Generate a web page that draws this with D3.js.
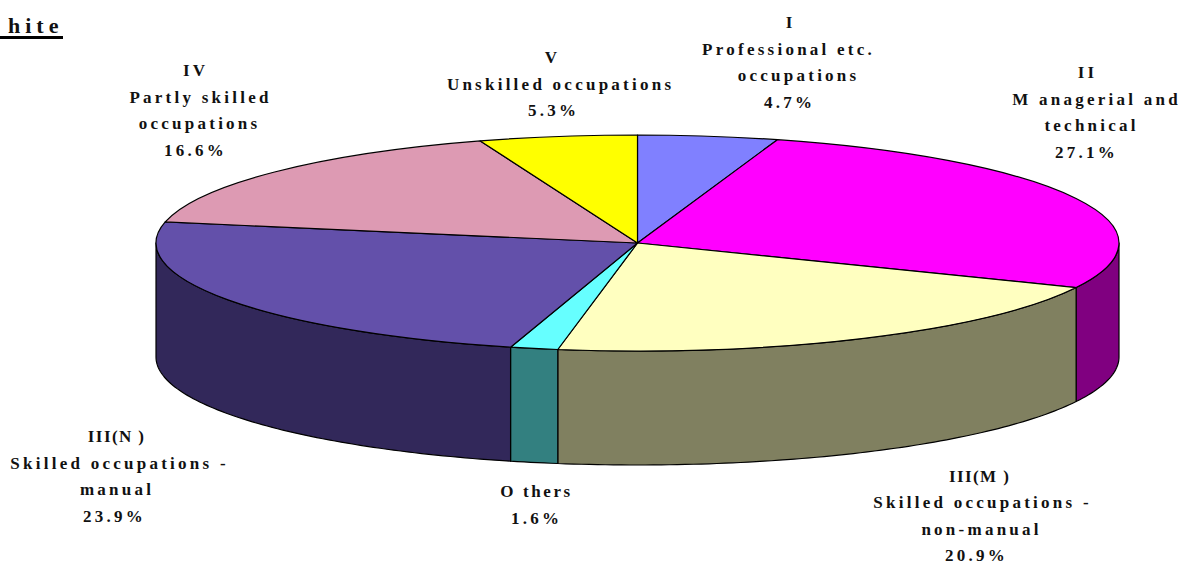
<!DOCTYPE html>
<html><head><meta charset="utf-8">
<script src="https://cdn.jsdelivr.net/npm/d3@7"></script>
<style>html,body{margin:0;padding:0;background:#fff}svg{display:block}
text{font-family:"Liberation Serif",serif;font-weight:bold;fill:#111}</style>
</head><body><svg id="c" width="1181" height="565"></svg>
<script>
const categories = ["I","II","III(M)","Others","III(N)","IV","V"];
const values = [4.7,27.1,20.9,1.6,23.9,16.6,5.3];
const topColors = ["#8080ff","#ff00ff","#ffffc0","#66ffff","#6350aa","#dd9ab3","#ffff00"];
const sideColors = ["#404080","#800080","#808060","#338080","#32285a","#6f4d5a","#808000"];
const labelLines = [
  ["I","Professional etc.","occupations","4.7%"],
  ["II","M anagerial and","technical","27.1%"],
  ["III(M )","Skilled occupations -","non-manual","20.9%"],
  ["O thers","1.6%"],
  ["III(N )","Skilled occupations -","manual","23.9%"],
  ["IV","Partly skilled","occupations","16.6%"],
  ["V","Unskilled occupations","5.3%"]
];
// layout only: horizontal centre of each label line, first baseline of each label
const labelX = [[789,787,797,788],[1086,1095,1090,1085],[978,981,980,975],[535,535],[115,118,115.5,113],[194,199,198,194],[551,559,552]];
const labelY = [28,78,481.5,497,442,76,63];

const cx=637.5, cy=243, rx=481.5, ry=108, depth=114, lh=26.5;
const svg=d3.select("#c");
const arcs=d3.pie().sort(null).value(d=>d)(values);
const pt=(a,dy=0)=>[cx+rx*Math.sin(a), cy-ry*Math.cos(a)+dy];

// side walls (only the front half is visible)
const line=d3.line();
arcs.forEach((d,i)=>{
  const a0=Math.max(d.startAngle,Math.PI/2), a1=Math.min(d.endAngle,Math.PI*1.5);
  if(a1<=a0) return;
  const n=Math.max(2,Math.ceil((a1-a0)*60));
  const as=d3.range(n+1).map(k=>a0+(a1-a0)*k/n);
  const pts=[...as.map(a=>pt(a)),...as.slice().reverse().map(a=>pt(a,depth))];
  svg.append("path").attr("d",line(pts)+"Z").attr("fill",sideColors[i])
    .attr("stroke","#000").attr("stroke-width",1.2).attr("stroke-linejoin","round");
});

// top face
const arc=d3.arc().innerRadius(0).outerRadius(rx);
const face=svg.append("g").attr("transform",`translate(${cx},${cy}) scale(1,${ry/rx})`);
face.selectAll("path").data(arcs).join("path")
  .attr("d",arc).attr("fill",(d,i)=>topColors[i])
  .attr("stroke","#000").attr("stroke-width",1.2)
  .attr("vector-effect","non-scaling-stroke").attr("stroke-linejoin","round");

// labels
categories.forEach((c,i)=>{
  const t=svg.append("text").attr("text-anchor","middle")
    .style("font-size","17px").style("letter-spacing","3.25px");
  labelLines[i].forEach((s,k)=>{
    t.append("tspan").attr("x",labelX[i][k]+1.6).attr("y",labelY[i]+k*lh)
      .style("letter-spacing",s.startsWith("III(")?"1.4px":(s.startsWith("O ")?"2.6px":null)).text(s);
  });
});

// clipped title
svg.append("text").attr("x",8).attr("y",33).style("font-size","22px").style("letter-spacing","5px").text("hite");
svg.append("rect").attr("x",0).attr("y",36).attr("width",63).attr("height",3).attr("fill","#000");
</script></body></html>
